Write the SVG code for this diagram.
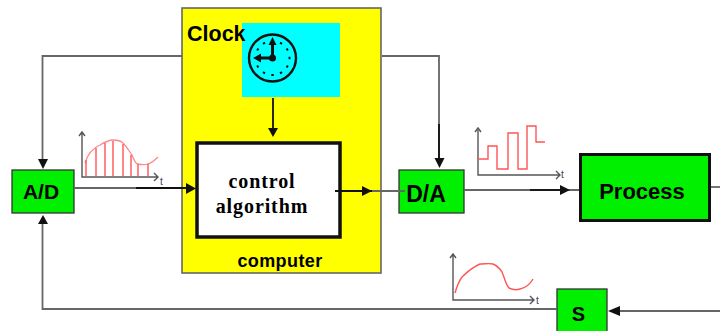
<svg xmlns="http://www.w3.org/2000/svg" width="720" height="331" viewBox="0 0 720 331">
<style>
text{font-family:"Liberation Sans",Arial,sans-serif;fill:#000}
.b{font-weight:bold}
.f{font-family:"Liberation Serif","Times New Roman",serif;font-size:20px;letter-spacing:.9px}
.n{fill:#00f000;stroke:#333;stroke-width:1.3}
.c{fill:none;stroke:#666;stroke-width:1.8}
.k{fill:none;stroke:#111;stroke-width:1.8}
.r{fill:none;stroke:#f55;stroke-width:1.4}
.s{fill:none;stroke:#f88;stroke-width:1.3}
.a{fill:none;stroke:#555;stroke-width:1.4}
.t{font-size:10px;fill:#346}
.h{fill:#111}
</style>
<rect width="720" height="331" fill="#fff"/>
<g id="computer">
<rect x="182" y="8" width="199" height="265" fill="#ff0" stroke="#666" stroke-width="1.6"/>
<text class="b" x="280" y="267" font-size="18" letter-spacing=".4" text-anchor="middle">computer</text>
</g>
<g id="clock">
<rect x="242" y="23" width="98" height="74" fill="#0ff"/>
<text class="b" x="187" y="41" font-size="21.500">Clock</text>
<circle cx="272.500" cy="58" r="23.500" fill="none" stroke="#111" stroke-width="2.400"/>
<g stroke="#111" stroke-width="2.400"><path d="M281.500 42.400L280.500 44.100M288.100 49L286.400 50M290.500 58H288.500M288.100 67L286.400 66M281.500 73.600L280.500 71.900M272.500 76V74M263.500 73.600L264.500 71.900M256.900 67L258.600 66M256.900 49L258.600 50M263.500 42.400L264.500 44.100"/></g>
<path d="M272.500 58V42M272.500 58H260" stroke="#111" stroke-width="3" fill="none"/>
<path class="h" d="M268.500 45L272.500 37L276.500 45ZM261 53.500L253 58L261 62.500Z"/>
<circle cx="272.500" cy="58" r="3.500" fill="#111"/>
</g>
<g id="control-algorithm">
<rect x="197" y="143" width="143" height="94" fill="#fff" stroke="#111" stroke-width="3.500"/>
<text x="262" y="188" class="b f" text-anchor="middle">control</text>
<text x="262" y="213" class="b f" text-anchor="middle">algorithm</text>
</g>
<g id="ad">
<rect class="n" x="12" y="170" width="62" height="43"/>
<text class="b" x="41" y="199" font-size="21" text-anchor="middle">A/D</text>
</g>
<g id="da">
<rect class="n" x="399" y="170" width="65" height="43"/>
</g>
<g id="process">
<rect x="580.500" y="154.500" width="129" height="66" fill="#00f000" stroke="#111" stroke-width="3"/>
<text class="b" x="642" y="199" font-size="22" text-anchor="middle">Process</text>
</g>
<g id="sensor">
<rect class="n" x="557" y="289" width="50" height="43"/>
<text class="b" x="578.500" y="321" font-size="20" text-anchor="middle">S</text>
</g>
<g id="connectors">
<path class="c" d="M182 56H42.500V160"/>
<path class="c" d="M382 56H439V160"/>
<path class="k" d="M439 124V160"/>
<path class="h" d="M38 159H48L43 169Z"/>
<path class="h" d="M434.500 158H444.500L439.500 168Z"/>
<path class="k" d="M273 98V130"/>
<path class="h" d="M268 128H278L273 137Z"/>
<path class="c" d="M74 188H186"/>
<path class="k" d="M136 188H186"/>
<path class="h" d="M186 183L196 188.500L186 194Z"/>
<path class="c" d="M335 191H405"/>
<path class="k" d="M335 191H372"/>
<path class="h" d="M362 186L372 191L362 196Z"/>
<path class="c" d="M464 190H579"/>
<path class="k" d="M530 190H562"/>
<path class="h" d="M560 185L570 190L560 195Z"/>
<path class="c" d="M711 187H720"/>
<path class="c" d="M42.500 224V309H557"/>
<path class="h" d="M38 224L43 215L48 224Z"/>
<path class="c" d="M720 311H618"/>
<path class="h" d="M620 306L608 311L620 316Z"/>
</g>
<text id="da-label" class="b" x="426" y="202" font-size="23" text-anchor="middle">D/A</text>
<g id="plot-sampled">
<path class="a" d="M82 132V177H158M79 136L82 132L85 136M154 173L158 177L154 181"/>
<text class="t" x="160" y="185">t</text>
<path class="s" d="M85 163C88 153 93 148 100 145C105 142 109 140 113 140C118 140 121 141 123 143C127 147 129 151 132 155C134 159 135 164 138 164C142 165 145 165 148 164C152 163 155 160 158 157"/>
<path class="r" d="M86 176V160M96 176V148M105 176V143M113 176V141M123 176V144M131 176V155M138 176V164M148 176V164"/>
</g>
<g id="plot-step">
<path class="a" d="M478 130V175H560M475 132L478 128L481 132M556 171L560 175L556 179"/>
<text class="t" x="561" y="178">t</text>
<path class="r" d="M478 159H488V146H497V169H508V133H518V169H527V126H536V142H545"/>
</g>
<g id="plot-smooth">
<path class="a" d="M453 255V300H534M450 258L453 254L456 258M530 296L534 300L530 304"/>
<text class="t" x="536" y="304">t</text>
<path class="r" d="M455 293C457 286 459 281 462 277C467 272 473 267 480 264C485 264 489 263 493 264C498 266 500 269 502 272C505 279 506 285 509 288C513 290 517 290 520 289C525 288 529 286 533 279"/>
</g>
</svg>
